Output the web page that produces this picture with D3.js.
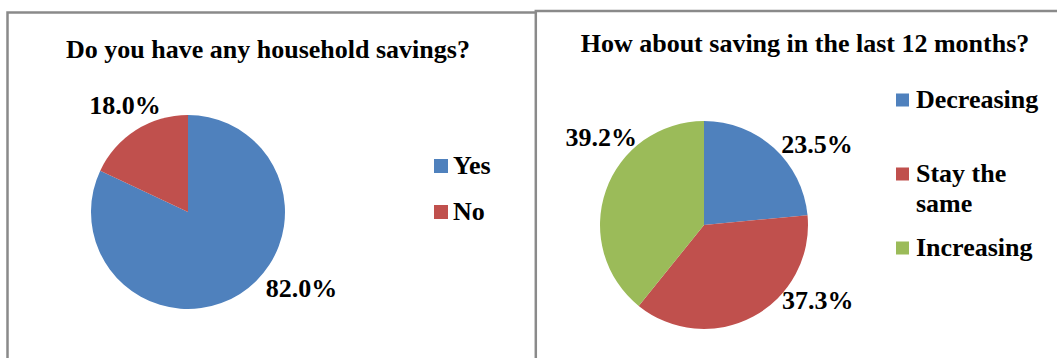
<!DOCTYPE html>
<html>
<head>
<meta charset="utf-8">
<script src="https://cdn.jsdelivr.net/npm/d3@7"></script>
<style>
  html, body { margin: 0; padding: 0; background: #fff; }
  svg { display: block; }
  text { font-family: "Liberation Serif", "Times New Roman", serif; font-weight: bold; fill: #000; }
</style>
</head>
<body>
<svg id="chart" width="1057" height="358"></svg>
<script>
// ---- data ----
const leftTitle = "Do you have any household savings?";
const leftCategories = ["Yes", "No"];
const leftValues = [82.0, 18.0];

const rightTitle = "How about saving in the last 12 months?";
const rightCategories = ["Decreasing", "Stay the same", "Increasing"];
const rightValues = [23.5, 37.3, 39.2];

// ---- style / layout ----
const leftColors = ["#4F81BD", "#C0504D"];
const rightColors = ["#4F81BD", "#C0504D", "#9BBB59"];
const FONT = 26;

const svg = d3.select("#chart");

// panel frames
svg.append("path")
  .attr("d", "M7.5,370 V12.5 H535")
  .attr("fill", "none").attr("stroke", "#8a8a8a").attr("stroke-width", 2.5);
svg.append("path")
  .attr("d", "M535.8,370 V11 H1070")
  .attr("fill", "none").attr("stroke", "#8a8a8a").attr("stroke-width", 2.5);

function drawPie(cfg) {
  const g = svg.append("g");
  g.append("text")
    .attr("x", cfg.titleX).attr("y", cfg.titleY)
    .attr("text-anchor", "middle")
    .style("font-size", FONT + "px")
    .text(cfg.title);

  const pie = d3.pie().sort(null).value(d => d.v);
  const arc = d3.arc().innerRadius(0).outerRadius(cfg.r);
  const data = cfg.categories.map((c, i) => ({ c, v: cfg.values[i], color: cfg.colors[i] }));
  const arcs = pie(data);

  const pg = g.append("g").attr("transform", `translate(${cfg.cx},${cfg.cy})`);
  pg.selectAll("path").data(arcs).enter().append("path")
    .attr("d", arc)
    .attr("fill", d => d.data.color);

  // data labels (placed in polar coords around the pie centre)
  pg.selectAll("text.lbl").data(arcs).enter().append("text")
    .attr("class", "lbl")
    .attr("text-anchor", "middle")
    .attr("dy", "0.34em")
    .attr("x", (d, i) => Math.sin(cfg.labelPolar[i][0] * Math.PI / 180) * cfg.labelPolar[i][1])
    .attr("y", (d, i) => -Math.cos(cfg.labelPolar[i][0] * Math.PI / 180) * cfg.labelPolar[i][1])
    .style("font-size", FONT + "px")
    .text(d => d.data.v.toFixed(1) + "%");

  // legend
  const lg = g.append("g");
  data.forEach((d, i) => {
    const item = cfg.legend[i];
    lg.append("rect")
      .attr("x", cfg.legendX).attr("y", item.y - cfg.sq / 2)
      .attr("width", cfg.sq).attr("height", cfg.sq)
      .attr("fill", d.color);
    const t = lg.append("text")
      .attr("x", cfg.legendX + cfg.textGap)
      .attr("y", item.y + 8)
      .style("font-size", FONT + "px");
    item.lines.forEach((ln, k) => {
      t.append("tspan").attr("x", cfg.legendX + cfg.textGap)
        .attr("dy", k === 0 ? 0 : 30).text(ln);
    });
  });
}

drawPie({
  title: leftTitle, titleX: 268, titleY: 58,
  categories: leftCategories, values: leftValues, colors: leftColors,
  cx: 188, cy: 212, r: 97,
  labelPolar: [[124, 137], [329.5, 124]],
  legendX: 434, sq: 14, textGap: 19,
  legend: [{ y: 166, lines: ["Yes"] }, { y: 212, lines: ["No"] }]
});

drawPie({
  title: rightTitle, titleX: 805, titleY: 52,
  categories: rightCategories, values: rightValues, colors: rightColors,
  cx: 704, cy: 225, r: 104,
  labelPolar: [[54.4, 139], [123.3, 136], [310.5, 135]],
  legendX: 896, sq: 13, textGap: 20,
  legend: [
    { y: 100, lines: ["Decreasing"] },
    { y: 174, lines: ["Stay the", "same"] },
    { y: 248, lines: ["Increasing"] }
  ]
});
</script>
</body>
</html>
